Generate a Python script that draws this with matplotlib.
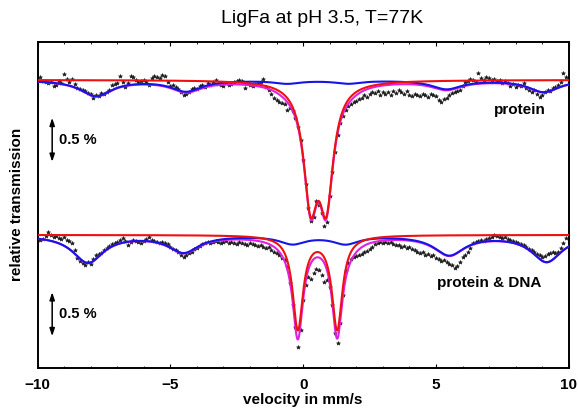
import numpy as np
import matplotlib
matplotlib.use('Agg')
import matplotlib.pyplot as plt

# channel velocities (mm/s)
velocity = np.linspace(-9.9, 9.9, 199)

protein_data = [
    0.03, -0.01, -0.02, -0.03, -0.02, -0.07, -0.06, -0.01, -0.03, 0.07,
    0.01, -0.02, 0.01, -0.05, -0.09, -0.10, -0.11, -0.13, -0.15, -0.16,
    -0.20, -0.17, -0.18, -0.15, -0.16, -0.14, -0.11, -0.06, -0.05, -0.03,
    0.05, -0.02, -0.08, -0.03, 0.05, 0.03, 0.00, -0.02, -0.01, 0.00,
    -0.02, -0.06, 0.02, 0.05, 0.03, 0.02, 0.06, 0.05, -0.02, -0.07,
    -0.06, -0.08, -0.10, -0.14, -0.17, -0.16, -0.14, -0.10, -0.09, -0.10,
    -0.07, -0.06, -0.08, -0.03, -0.06, -0.02, 0.00, -0.05, -0.06, -0.07,
    -0.03, -0.06, -0.05, -0.02, -0.01, 0.00, -0.01, -0.09, -0.03, -0.06,
    -0.07, -0.05, -0.03, -0.02, 0.01, -0.08, -0.11, -0.16, -0.20, -0.23,
    -0.25, -0.26, -0.27, -0.34, -0.32, -0.35, -0.43, -0.53, -0.68, -0.91,
    -1.18, -1.45, -1.60, -1.56, -1.38, -1.42, -1.51, -1.66, -1.61, -1.32,
    -1.05, -0.82, -0.63, -0.49, -0.41, -0.34, -0.30, -0.27, -0.25, -0.24,
    -0.22, -0.20, -0.17, -0.19, -0.16, -0.14, -0.15, -0.13, -0.17, -0.14,
    -0.16, -0.14, -0.17, -0.13, -0.15, -0.11, -0.14, -0.16, -0.13, -0.17,
    -0.18, -0.16, -0.17, -0.18, -0.16, -0.17, -0.19, -0.16, -0.17, -0.18,
    -0.23, -0.25, -0.22, -0.20, -0.17, -0.15, -0.14, -0.13, -0.11, -0.07,
    -0.02, -0.01, 0.01, 0.00, -0.02, 0.08, 0.02, 0.00, 0.03, 0.02,
    0.00, 0.01, -0.01, 0.00, -0.03, -0.01, -0.03, -0.07, -0.05, -0.08,
    -0.06, -0.07, -0.03, -0.09, -0.11, -0.14, -0.11, -0.16, -0.19, -0.17,
    -0.14, -0.11, -0.13, -0.09, -0.08, -0.06, -0.02, 0.08, 0.03,
]

dna_data = [
    -0.06, -0.05, -0.01, 0.03, 0.00, -0.02, -0.01, -0.03, -0.05, -0.02,
    -0.06, -0.07, -0.09, -0.17, -0.26, -0.30, -0.32, -0.34, -0.31, -0.33,
    -0.27, -0.23, -0.22, -0.20, -0.17, -0.15, -0.13, -0.10, -0.09, -0.08,
    -0.06, -0.03, -0.07, -0.11, -0.08, -0.06, -0.07, -0.08, -0.09, -0.07,
    -0.05, -0.02, -0.06, -0.07, -0.08, -0.09, -0.08, -0.09, -0.10, -0.14,
    -0.16, -0.17, -0.19, -0.23, -0.25, -0.23, -0.20, -0.19, -0.16, -0.15,
    -0.13, -0.10, -0.09, -0.08, -0.09, -0.08, -0.07, -0.08, -0.09, -0.08,
    -0.07, -0.09, -0.08, -0.09, -0.10, -0.08, -0.09, -0.10, -0.11, -0.09,
    -0.10, -0.11, -0.13, -0.11, -0.14, -0.15, -0.14, -0.17, -0.19, -0.20,
    -0.23, -0.26, -0.28, -0.36, -0.55, -0.80, -1.05, -1.27, -1.08, -0.74,
    -0.57, -0.48, -0.50, -0.43, -0.39, -0.40, -0.45, -0.53, -0.51, -0.59,
    -0.80, -1.11, -1.23, -1.00, -0.68, -0.41, -0.32, -0.27, -0.25, -0.24,
    -0.23, -0.22, -0.19, -0.18, -0.16, -0.14, -0.10, -0.09, -0.08, -0.09,
    -0.08, -0.09, -0.08, -0.10, -0.11, -0.11, -0.14, -0.13, -0.15, -0.14,
    -0.16, -0.17, -0.19, -0.20, -0.19, -0.23, -0.22, -0.24, -0.23, -0.26,
    -0.27, -0.30, -0.28, -0.31, -0.33, -0.34, -0.38, -0.35, -0.31, -0.25,
    -0.23, -0.19, -0.15, -0.09, -0.08, -0.07, -0.06, -0.07, -0.05, -0.03,
    -0.02, 0.00, -0.01, -0.02, -0.03, -0.02, -0.05, -0.06, -0.07, -0.08,
    -0.09, -0.10, -0.11, -0.14, -0.16, -0.17, -0.19, -0.22, -0.23, -0.25,
    -0.24, -0.22, -0.20, -0.19, -0.20, -0.19, -0.15, -0.09, -0.03,
]

# fitted sub-spectra: Lorentzian line positions (mm/s), depths (%), half widths (mm/s)
protein_doublet_pos = [0.28, 0.87]
protein_doublet_depth = [1.27, 1.27]
protein_doublet_hwhm = [0.32, 0.32]
protein_sextet_pos = [-7.8, -4.4, -0.6, 1.7, 5.4, 9.06]
protein_sextet_depth = [0.18, 0.125, 0.035, 0.035, 0.10, 0.135]
protein_sextet_hwhm = [0.72, 0.7, 0.6, 0.6, 0.7, 0.7]

dna_doublet_pos = [-0.2, 1.28]
dna_doublet_depth = [1.06, 1.06]
dna_doublet_hwhm = [0.235, 0.235]
dna_sextet_pos = [-8.1, -4.5, -0.4, 1.6, 5.5, 9.17]
dna_sextet_depth = [0.31, 0.19, 0.09, 0.09, 0.22, 0.30]
dna_sextet_hwhm = [0.7, 0.7, 0.6, 0.6, 0.7, 0.7]

offsets = [0.0, -1.76]


def lorentz_sum(v, pos, depth, hwhm):
    out = np.zeros_like(v)
    for p, d, w in zip(pos, depth, hwhm):
        out += d / (1 + ((v - p) / w) ** 2)
    return out


plt.rcParams['font.family'] = ['Liberation Sans', 'DejaVu Sans']

fig = plt.figure(figsize=(5.78, 4.12), dpi=100)
ax = fig.add_axes([0.065, 0.107, 0.919, 0.792])

vfit = np.linspace(-10, 10, 1001)
spectra = [
    (protein_data, protein_doublet_pos, protein_doublet_depth, protein_doublet_hwhm,
     protein_sextet_pos, protein_sextet_depth, protein_sextet_hwhm),
    (dna_data, dna_doublet_pos, dna_doublet_depth, dna_doublet_hwhm,
     dna_sextet_pos, dna_sextet_depth, dna_sextet_hwhm),
]

for off, (data, dp, dd, dw, sp, sd, sw) in zip(offsets, spectra):
    red = lorentz_sum(vfit, dp, dd, dw)
    blue = lorentz_sum(vfit, sp, sd, sw)
    ax.plot(velocity, off + np.array(data), linestyle='none', marker='*',
            ms=3.0, color='#1a1a1a', mew=0.4, zorder=2)
    ax.plot(vfit, off - red - blue, color='#e020e0', lw=1.5, zorder=3)
    ax.plot(vfit, off - blue, color='#1515e8', lw=1.5, zorder=4)
    ax.plot(vfit, off - red, color='#ee1111', lw=1.5, zorder=5)

# 0.5 % scale bars
for y0 in [-0.43, -2.41]:
    ax.annotate('', xy=(-9.45, y0), xytext=(-9.45, y0 - 0.5),
                arrowprops=dict(arrowstyle='<|-|>,head_length=0.45,head_width=0.15',
                                color='black', lw=1.1, shrinkA=0, shrinkB=0))
    ax.text(-9.2, y0 - 0.25, '0.5 %', fontsize=10.5, fontweight='bold',
            ha='left', va='center')

ax.text(8.15, -0.34, 'protein', fontsize=11, fontweight='bold', ha='center', va='center')
ax.text(7.0, -2.31, 'protein & DNA', fontsize=11, fontweight='bold', ha='center', va='center')

ax.set_xlim(-10, 10)
ax.set_ylim(-3.27, 0.435)
ax.set_xticks([-10, -5, 0, 5, 10])
ax.set_xticklabels(['\u221210', '\u22125', '0', '5', '10'])
ax.set_xticks(np.arange(-10, 11, 1), minor=True)
ax.tick_params(axis='x', direction='in', length=3, width=0.8, top=True,
               labelsize=11, pad=7)
ax.tick_params(axis='x', which='minor', direction='in', length=1.5, width=0.6, top=True)
for lab in ax.get_xticklabels():
    lab.set_fontweight('bold')
ax.set_yticks([])
for s in ax.spines.values():
    s.set_linewidth(1.4)

ax.set_xlabel('velocity in mm/s', fontsize=11, fontweight='bold', labelpad=1)
ax.set_ylabel('relative transmission', fontsize=11, fontweight='bold', labelpad=10)
fig.text(0.557, 0.955, 'LigFa at pH 3.5, T=77K', fontsize=14, ha='center', va='center')

fig.savefig('out.png', dpi=100)
